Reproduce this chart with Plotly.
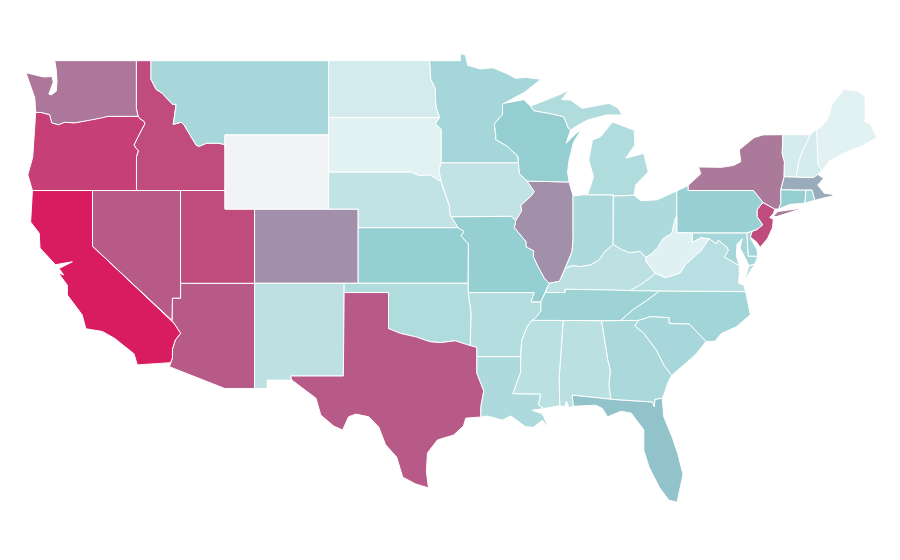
import plotly.graph_objects as go
from plotly.colors import sample_colorscale

states = ["AL","AR","AZ","CA","CO","CT","DC","DE","FL","GA","IA","ID","IL","IN","KS","KY","LA","MA","MD","ME","MI","MN","MO","MS","MT","NC","ND","NE","NH","NJ","NM","NV","NY","OH","OK","OR","PA","RI","SC","SD","TN","TX","UT","VA","VT","WA","WI","WV","WY"]
values = [17,20,76,100,56,33,30,27,38,24,14,82,56,23,32,16,22,46,26,1,21,26,32,17,25,27,7,14,6,82,16,76,64,22,21,86,31,27,25,1,29,76,82,18,6,65,33,2,None]
colorscale = [[0, "rgb(228,243,244)"], [0.35, "rgb(143,204,207)"], [0.56, "rgb(162,143,169)"], [0.76, "rgb(184,90,135)"], [1, "rgb(217,28,96)"]]
no_data_color = "#f2f3f5"

# shared borders as lon/lat, so neighbouring states meet exactly
columbia = [(-123.84,46.22),(-123.4,46.2),(-123.2,46.15),(-122.9,46.1),(-122.8,45.85),(-122.75,45.65),(-122.3,45.55),(-121.9,45.68),(-121.2,45.65),(-120.6,45.74),(-120.0,45.82),(-119.3,45.93),(-119.0,46.0),(-116.92,46.0)]
snake = [(-116.92,46.0),(-116.78,45.85),(-116.55,45.75),(-116.46,45.6),(-116.67,45.3),(-116.85,45.02),(-117.2,44.45),(-117.03,44.25),(-116.9,44.15),(-117.03,43.83),(-117.03,42.0)]
id_mt = [(-116.05,49.0),(-116.05,48.0),(-115.7,47.45),(-115.3,47.25),(-114.95,46.93),(-114.6,46.65),(-114.35,46.65),(-114.45,46.0),(-114.55,45.57),(-114.0,45.68),(-113.8,45.52),(-113.45,45.05),(-113.0,44.45),(-112.8,44.38),(-112.3,44.55),(-111.5,44.55),(-111.05,44.48)]
ne_north = [(-104.05,43.0),(-98.5,43.0),(-97.9,42.8),(-97.2,42.85),(-96.7,42.6),(-96.45,42.5)]
mo_river = [(-96.45,42.5),(-96.35,42.2),(-96.1,41.7),(-95.9,41.2),(-95.85,40.7),(-95.75,40.58)]
ne_mo = [(-95.75,40.58),(-95.31,40.0)]
ks_mo = [(-95.31,40.0),(-94.9,39.8),(-95.1,39.55),(-94.6,39.12),(-94.62,37.0)]
sd_mn = [(-96.45,42.5),(-96.6,43.1),(-96.45,43.5),(-96.45,45.3),(-96.85,45.6),(-96.55,45.94)]
nd_mn = [(-96.55,45.94),(-96.8,46.5),(-96.85,47.5),(-97.15,48.0),(-97.23,49.0)]
mn_wi = [(-92.2,46.7),(-92.3,46.65),(-92.3,46.1),(-92.85,45.6),(-92.75,45.0),(-92.75,44.75),(-92.0,44.4),(-91.25,43.85),(-91.22,43.5)]
wi_ia = [(-91.22,43.5),(-91.15,42.9),(-90.64,42.51)]
ia_il = [(-90.64,42.51),(-90.15,41.95),(-90.3,41.75),(-91.05,41.2),(-91.0,40.9),(-91.4,40.38)]
mo_il = [(-91.4,40.38),(-91.5,40.0),(-90.72,39.25),(-90.7,38.95),(-90.2,38.75),(-90.2,38.4),(-89.9,37.9),(-89.5,37.3),(-89.15,37.0)]
tn_ar = [(-89.7,36.0),(-89.7,35.5),(-90.1,35.1),(-90.3,35.0)]
ms_ar = [(-90.3,35.0),(-90.6,34.7),(-91.0,33.9),(-91.07,33.04)]
la_ms = [(-91.07,33.04),(-91.07,32.2),(-91.59,31.05),(-89.72,31.03),(-89.85,30.44),(-89.5,30.25)]
ok_tx = [(-100.0,36.5),(-100.0,34.56),(-99.2,34.3),(-98.1,34.1),(-97.2,33.85),(-96.5,33.8),(-95.5,33.9),(-94.48,33.64)]
la_tx = [(-94.04,33.04),(-94.04,32.16),(-93.57,31.2),(-93.77,30.34),(-93.77,29.79)]
rio_grande = [(-106.53,31.78),(-104.9,30.8),(-104.58,29.9),(-103.7,29.3),(-103.1,29.09),(-102.7,29.8),(-102.2,29.95),(-101.33,29.8),(-100.66,29.25),(-100.2,28.3),(-99.45,27.63),(-99.04,26.55),(-98.16,26.18),(-97.3,25.97)]
az_river = [(-114.72,32.72),(-114.6,33.0),(-114.6,33.45),(-114.4,33.95),(-114.05,34.3),(-114.5,34.85),(-114.63,35.0)]
al_ga = [(-85.6,34.98),(-85.18,32.87),(-85.0,32.3),(-85.1,31.55),(-84.98,30.75)]
ga_fl = [(-84.98,30.75),(-82.16,30.6),(-82.05,30.36),(-82.0,30.75),(-81.5,30.8)]
ga_sc = [(-83.1,35.0),(-83.35,34.7),(-82.75,34.3),(-81.9,33.4),(-81.4,32.6),(-80.87,32.03)]
sc_nc = [(-83.1,35.0),(-82.3,35.2),(-81.05,35.15),(-81.05,34.85),(-80.8,34.82),(-79.67,34.8),(-78.55,33.86)]
nc_tn = [(-84.32,34.99),(-83.5,35.57),(-82.6,36.05),(-81.68,36.59)]
tn_north = [(-89.4,36.5),(-88.07,36.5),(-88.07,36.68),(-83.68,36.6),(-81.68,36.59)]
va_ky = [(-83.68,36.6),(-83.1,36.85),(-82.3,37.3),(-81.97,37.54)]
va_wv = [(-81.97,37.54),(-81.3,37.3),(-80.3,37.55),(-79.95,38.0),(-79.3,38.45),(-78.87,38.77),(-78.35,39.4),(-77.83,39.13),(-77.72,39.32)]
va_md = [(-77.72,39.32),(-77.12,38.93),(-77.04,38.79),(-77.3,38.4),(-76.95,38.25),(-76.3,37.95)]
wv_md = [(-79.48,39.72),(-79.48,39.2),(-78.9,39.45),(-78.35,39.4)]
wv_oh = [(-82.6,38.4),(-82.2,38.6),(-81.75,39.0),(-81.45,39.4),(-80.85,39.7),(-80.65,40.4),(-80.52,40.64)]
ky_wv = [(-82.6,38.4),(-82.6,38.17),(-81.97,37.54)]
ky_oh = [(-82.6,38.4),(-83.0,38.72),(-83.7,38.65),(-84.2,38.8),(-84.82,39.1)]
ky_in = [(-84.82,39.1),(-85.4,38.7),(-85.75,38.27),(-86.3,38.0),(-87.0,37.9),(-87.6,37.95),(-88.05,37.8)]
ky_il = [(-88.05,37.8),(-88.45,37.1),(-89.15,37.0)]
il_in = [(-87.53,41.71),(-87.53,39.35),(-87.6,38.7),(-88.05,37.8)]
pa_nj = [(-74.7,41.36),(-75.1,40.97),(-75.1,40.6),(-74.72,40.15),(-75.1,39.9),(-75.42,39.8)]
wi_mi = [(-90.4,46.55),(-90.2,46.3),(-89.1,46.15),(-88.15,45.97),(-87.85,45.35),(-87.7,45.26)]
vt_nh = [(-72.46,42.73),(-72.3,43.5),(-72.05,44.1),(-71.5,45.01)]
ny_vt = [(-73.27,42.75),(-73.25,43.55),(-73.4,44.0),(-73.35,45.01)]

outlines = {
    "WA": [[(-122.55,49.0),(-117.04,49.0),(-117.04,46.42)] + columbia[::-1] + [(-123.85,46.5),(-123.9,47.0),(-124.5,48.35),(-123.3,48.12),(-122.75,48.15),(-122.65,47.85),(-122.95,47.2),(-122.8,47.15),(-122.45,47.35),(-122.4,47.9),(-122.45,48.5)]],
    "OR": [columbia + snake[1:] + [(-124.06,42.0),(-124.37,42.85),(-124.04,43.8),(-123.9,45.5)]],
    "CA": [[(-124.06,42.0),(-120.0,42.0),(-120.0,39.0),(-114.63,35.0)] + az_river[::-1][1:] + [(-116.97,32.6),(-117.2,33.2),(-118.2,33.85),(-118.5,34.03),(-119.33,34.4),(-120.45,34.55),(-120.7,35.3),(-121.7,36.37),(-121.7,36.9),(-122.3,37.55),(-121.95,37.45),(-122.26,37.8),(-121.36,38.16),(-122.3,38.05),(-122.5,38.0),(-123.55,38.9),(-123.6,39.7),(-124.18,40.3)]],
    "NV": [[(-120.0,42.0),(-114.05,42.0),(-114.05,36.2),(-114.6,36.2),(-114.63,35.0),(-120.0,39.0)]],
    "ID": [[(-117.04,49.0)] + id_mt + [(-111.05,42.0)] + snake[::-1] + [(-117.04,46.42)]],
    "MT": [[(-116.05,49.0),(-104.05,49.0),(-104.05,45.0),(-111.05,45.0)] + id_mt[::-1]],
    "WY": [[(-111.05,45.0),(-104.05,45.0),(-104.05,41.0),(-111.05,41.0)]],
    "UT": [[(-114.05,42.0),(-111.05,42.0),(-111.05,41.0),(-109.05,41.0),(-109.05,37.0),(-114.05,37.0)]],
    "AZ": [[(-114.05,37.0),(-109.05,37.0),(-109.05,31.33),(-111.07,31.33),(-114.8,32.5)] + az_river + [(-114.6,36.2),(-114.05,36.2)]],
    "CO": [[(-109.05,41.0),(-102.05,41.0),(-102.05,37.0),(-109.05,37.0)]],
    "NM": [[(-109.05,37.0),(-103.0,37.0),(-103.0,36.5),(-103.05,32.0),(-106.62,32.0),(-106.53,31.78),(-108.2,31.78),(-108.2,31.33),(-109.05,31.33)]],
    "ND": [[(-104.05,49.0),(-97.23,49.0)] + nd_mn[::-1] + [(-104.05,45.94)]],
    "SD": [[(-104.05,45.94)] + sd_mn[::-1] + ne_north[::-1]],
    "NE": [ne_north + mo_river + ne_mo + [(-102.05,40.0),(-102.05,41.0),(-104.05,41.0)]],
    "KS": [[(-102.05,40.0)] + ks_mo + [(-102.05,37.0)]],
    "OK": [[(-103.0,37.0),(-94.62,37.0),(-94.62,36.5),(-94.43,35.4)] + ok_tx[::-1] + [(-103.0,36.5)]],
    "TX": [[(-103.0,36.5)] + ok_tx + [(-94.04,33.55)] + la_tx + [(-94.78,29.73),(-94.94,29.3),(-95.6,28.82),(-96.7,28.55),(-97.37,27.85),(-97.44,26.84)] + rio_grande[::-1] + [(-106.62,32.0),(-103.05,32.0)]],
    "MN": [[(-97.23,49.0),(-95.15,49.0),(-95.15,49.38),(-94.8,49.3),(-94.65,48.75),(-93.8,48.55),(-92.95,48.62),(-92.0,48.3),(-91.4,48.05),(-90.75,48.1),(-89.7,48.0),(-90.8,47.3),(-91.5,47.0)] + mn_wi + [(-96.45,43.5),(-96.45,45.3),(-96.85,45.6)] + nd_mn[:-1]],
    "IA": [[(-96.45,43.5),(-91.22,43.5)] + wi_ia[1:] + ia_il[1:] + [(-91.73,40.61),(-95.75,40.58)] + mo_river[::-1][1:] + [(-96.6,43.1)]],
    "MO": [[(-95.75,40.58),(-91.73,40.61)] + mo_il + [(-89.4,36.5),(-89.7,36.0),(-90.37,36.0),(-90.15,36.5),(-94.62,36.5)] + ks_mo[::-1]],
    "AR": [[(-94.62,36.5),(-90.15,36.5),(-90.37,36.0)] + tn_ar + ms_ar[1:] + [(-94.04,33.04),(-94.04,33.55),(-94.48,33.64),(-94.43,35.4)]],
    "LA": [[(-94.04,33.04)] + la_ms + [(-90.3,30.15),(-89.7,30.0),(-89.5,29.8),(-89.2,29.14),(-89.6,29.62),(-90.2,29.24),(-90.73,29.26),(-91.74,29.85),(-92.3,29.62),(-93.3,29.84)] + la_tx[::-1][:-1]],
    "WI": [wi_ia[::-1] + mn_wi[::-1] + [(-90.85,46.9)] + wi_mi + [(-88.0,44.55),(-87.3,45.1),(-87.0,45.26),(-87.5,44.6),(-87.8,43.65),(-87.9,43.0),(-87.8,42.46)]],
    "IL": [[(-90.64,42.51),(-87.8,42.46)] + il_in + ky_il[1:] + mo_il[::-1][1:] + ia_il[::-1][1:]],
    "IN": [[(-87.53,41.71),(-86.82,41.77),(-84.81,41.77),(-84.82,39.1)] + ky_in[1:] + il_in[::-1][1:]],
    "OH": [[(-84.81,41.77),(-84.81,41.7),(-83.4,41.75),(-82.95,41.45),(-81.85,41.5),(-80.52,41.98)] + wv_oh[::-1] + ky_oh[1:]],
    "KY": [[(-89.4,36.5),(-89.15,37.0)] + ky_il[::-1][1:] + ky_in[::-1][1:] + ky_oh[::-1][1:] + ky_wv[1:] + va_ky[::-1][1:] + [(-88.07,36.68),(-88.07,36.5)]],
    "TN": [tn_north + nc_tn[::-1][1:] + [(-90.3,35.0)] + tn_ar[::-1][1:]],
    "MS": [[(-90.3,35.0),(-88.2,35.0),(-88.47,31.9),(-88.43,30.4)] + la_ms[::-1] + ms_ar[::-1][1:]],
    "AL": [[(-88.2,35.0),(-85.6,34.98)] + al_ga[1:] + [(-87.6,30.97),(-87.5,30.37),(-87.8,30.3),(-87.98,30.65),(-88.1,30.35),(-88.43,30.4),(-88.47,31.9)]],
    "GA": [[(-85.6,34.98),(-83.1,35.0)] + ga_sc[1:] + [(-81.15,31.6),(-81.3,31.2)] + ga_fl[::-1] + al_ga[::-1][1:]],
    "FL": [[(-87.6,30.97)] + ga_fl + [(-81.4,29.8),(-80.83,28.7),(-80.45,27.8),(-80.1,26.7),(-80.5,25.2),(-81.05,25.3),(-81.7,26.0),(-82.4,27.1),(-82.75,28.0),(-82.75,29.1),(-83.6,30.0),(-84.3,30.1),(-85.2,29.8),(-85.55,30.25),(-85.99,30.43),(-87.5,30.37)]],
    "SC": [sc_nc + [(-79.2,33.2),(-79.9,32.7)] + ga_sc[::-1][:-1]],
    "NC": [nc_tn + [(-75.87,36.55),(-75.55,35.3),(-76.5,34.65),(-77.5,34.3),(-77.95,33.87)] + sc_nc[::-1] + [(-84.32,34.99)]],
    "VA": [[(-83.68,36.6)] + va_ky[1:] + va_wv[1:] + va_md[1:] + [(-76.3,37.5),(-76.35,37.0),(-76.0,36.9),(-75.87,36.55),(-81.68,36.59)], [(-75.95,37.15),(-75.65,37.95),(-75.25,38.03)]],
    "WV": [[(-80.52,40.64),(-80.52,39.72)] + wv_md + va_wv[::-1][3:] + ky_wv[::-1][1:] + wv_oh[1:]],
    "MD": [[(-79.48,39.72),(-75.79,39.72),(-75.7,38.46),(-75.05,38.45),(-75.25,38.03),(-75.65,37.95),(-75.85,38.3),(-76.25,38.9),(-76.1,39.4),(-76.45,39.1),(-76.5,38.5),(-76.3,37.95)] + va_md[::-1][1:] + [(-77.83,39.13),(-78.35,39.4),(-78.9,39.45),(-79.48,39.2)]],
    "DC": [[(-77.12,38.93),(-77.04,39.0),(-76.91,38.89),(-77.04,38.79)]],
    "DE": [[(-75.79,39.72),(-75.42,39.8),(-75.55,39.45),(-75.1,38.8),(-75.05,38.45),(-75.7,38.46)]],
    "PA": [[(-80.52,41.98),(-80.52,39.72),(-75.79,39.72)] + pa_nj[::-1] + [(-75.35,42.0),(-79.76,42.0),(-79.76,42.27)]],
    "NJ": [pa_nj + [(-75.55,39.5),(-75.1,39.2),(-74.9,38.93),(-74.4,39.4),(-74.05,40.0),(-74.0,40.45),(-74.25,40.55),(-74.0,40.75),(-73.9,41.0)]],
    "NY": [[(-79.76,42.0),(-75.35,42.0),(-74.7,41.36),(-73.9,41.0),(-73.65,41.0),(-73.5,41.3),(-73.5,42.05)] + ny_vt + [(-74.7,45.0),(-75.3,44.85),(-76.3,44.2),(-76.2,43.55),(-76.7,43.35),(-77.5,43.25),(-79.05,43.27),(-78.9,42.9),(-79.76,42.27)], [(-74.02,40.6),(-73.75,40.6),(-72.0,41.05),(-73.7,40.87)]],
    "CT": [[(-73.5,42.05),(-73.5,41.3),(-73.65,41.0),(-72.9,41.25),(-71.86,41.32),(-71.8,42.02)]],
    "RI": [[(-71.8,42.02),(-71.86,41.32),(-71.2,41.47),(-71.38,42.02)]],
    "MA": [[(-73.5,42.05),(-73.27,42.75),(-72.46,42.73),(-71.3,42.7),(-71.0,42.87),(-70.6,42.65),(-71.0,42.3),(-70.55,41.85),(-70.0,41.8),(-70.25,42.07),(-69.95,41.7),(-70.6,41.6),(-71.2,41.47),(-71.38,42.02),(-71.8,42.02)]],
    "VT": [ny_vt[::-1] + vt_nh],
    "NH": [vt_nh + [(-71.08,45.3),(-70.98,43.4),(-70.7,43.07),(-71.0,42.87),(-71.3,42.7)]],
    "ME": [[(-71.08,45.3),(-70.98,43.4),(-70.7,43.07),(-70.2,43.6),(-69.0,44.1),(-68.0,44.4),(-67.0,44.85),(-67.45,45.6),(-67.8,45.7),(-67.8,47.07),(-68.3,47.36),(-69.0,47.43),(-69.22,47.46),(-70.0,46.7),(-70.3,45.9),(-70.8,45.4)]],
    "MI": [wi_mi + [(-87.25,45.5),(-86.55,45.8),(-85.3,46.07),(-84.2,46.07),(-84.5,46.45),(-85.1,46.7),(-86.9,46.43),(-87.7,46.88),(-88.3,46.9),(-87.83,47.4),(-88.5,47.15),(-89.5,46.85)],
           [(-86.55,41.77),(-84.81,41.77),(-84.81,41.7),(-83.4,41.75),(-83.3,42.3),(-82.45,43.0),(-82.75,44.0),(-83.97,43.75),(-83.35,44.45),(-83.4,45.25),(-84.87,45.7),(-85.67,44.9),(-86.22,44.72),(-86.47,43.64),(-86.15,42.74)]],
}


def ring_xy(rings):
    # closes each ring and joins them with gaps, the way fill="toself" wants it
    xs, ys = [], []
    for ring in rings:
        points = ring + [ring[0]]
        xs += [p[0] for p in points] + [None]
        ys += [p[1] for p in points] + [None]
    return xs, ys


fig = go.Figure()
for state, value in zip(states, values):
    color = no_data_color if value is None else sample_colorscale(colorscale, value / 100)[0]
    xs, ys = ring_xy(outlines[state])
    fig.add_trace(go.Scatter(
        x=xs, y=ys,
        mode="lines",
        fill="toself",
        fillcolor=color,
        line=dict(color="white", width=1),
        name=state,
        hoverinfo="name",
    ))

# the page body keeps its 8px margin, so the plot is 884x544 inside the 900x560 window
fig.update_xaxes(range=[-125.71, -125.71 + 884 / 14.8], visible=False)
fig.update_yaxes(range=[51.84 - 544 / 18.55, 51.84], visible=False)
fig.update_layout(
    width=884, height=544,
    margin=dict(l=0, r=0, t=0, b=0),
    paper_bgcolor="white",
    plot_bgcolor="white",
    showlegend=False,
)
fig.write_html("out.html")
